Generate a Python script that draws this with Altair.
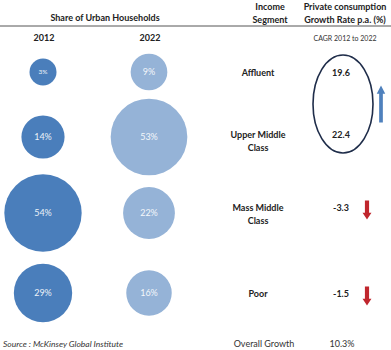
import altair as alt
import pandas as pd

# ---------------- data ----------------
segments = ["Affluent", "Upper Middle\nClass", "Mass Middle\nClass", "Poor"]
years = ["2012", "2022"]
share_2012 = [3, 14, 54, 29]
share_2022 = [9, 53, 22, 16]
growth = [19.6, 22.4, -3.3, -1.5]
overall_growth = "10.3%"
title_left = "Share of Urban Households"
header_segment = ["Income", "Segment"]
header_growth = ["Private consumption", "Growth Rate p.a. (%)"]
subheader = "CAGR 2012 to 2022"
source = "Source : McKinsey Global Institute"
overall_label = "Overall Growth"

# ---------------- layout / style ----------------
W, H = 391, 350
circle_row_y = [72, 137, 213, 293]
text_row_y = [73, 135, 208, 294]
year_x = {"2012": 43, "2022": 149}
seg_x = 258
growth_x = 341
FONT = "Lato"
DARK = "#4a7ebb"
LIGHT = "#95b3d7"

xs = alt.Scale(domain=[0, W], nice=False, zero=False)
ys = alt.Scale(domain=[0, H], nice=False, zero=False, reverse=True)


def X(f="x"):
    return alt.X(f, type="quantitative", scale=xs, axis=None)


def Y(f="y"):
    return alt.Y(f, type="quantitative", scale=ys, axis=None)


# circles
rows = []
for yr, vals in zip(years, [share_2012, share_2022]):
    for i, (seg, v) in enumerate(zip(segments, vals)):
        rows.append({"year": yr, "segment": seg, "share": v,
                     "label": f"{v}%", "x": year_x[yr], "y": circle_row_y[i]})
circ_df = pd.DataFrame(rows)

circles = alt.Chart(circ_df).mark_circle(opacity=1).encode(
    x=X(), y=Y(),
    size=alt.Size("share:Q", scale=alt.Scale(domain=[0, 60], range=[420, 6600]), legend=None),
    color=alt.Color("year:N", scale=alt.Scale(domain=years, range=[DARK, LIGHT]), legend=None),
)
circle_labels = alt.Chart(circ_df).mark_text(
    font=FONT, color="white", opacity=0.9, baseline="middle"
).encode(
    x=X(), y=Y(), text="label:N",
    size=alt.condition("datum.share < 5", alt.value(6.5), alt.value(9)),
)

# segment labels (one row per line)
seg_rows = []
for i, seg in enumerate(segments):
    for j, line in enumerate(seg.split("\n")):
        seg_rows.append({"t": line, "x": seg_x, "y": text_row_y[i] + 13 * j})
seg_labels = alt.Chart(pd.DataFrame(seg_rows)).mark_text(
    font=FONT, fontSize=9, fontWeight="bold", color="#222", baseline="middle"
).encode(x=X(), y=Y(), text="t:N")

# growth values
gdf = pd.DataFrame({"g": [f"{v}" for v in growth], "x": growth_x, "y": text_row_y})
growth_labels = alt.Chart(gdf).mark_text(
    font=FONT, fontSize=9, fontWeight="bold", color="#222", baseline="middle"
).encode(x=X(), y=Y(), text="g:N")

# ellipse around the positive rows
pos_y = [y for y, g in zip(text_row_y, growth) if g > 0]
neg_y = [y for y, g in zip(text_row_y, growth) if g < 0]
a, k = 30 / 49, 0.5523
ellipse_path = (f"M{a},0 C{a},{k} {k*a},1 0,1 C{-k*a},1 {-a},{k} {-a},0 "
                f"C{-a},{-k} {-k*a},-1 0,-1 C{k*a},-1 {a},{-k} {a},0 Z")
ell_df = pd.DataFrame({"x": [growth_x + 2], "y": [sum(pos_y) / len(pos_y)]})
ellipse = alt.Chart(ell_df).mark_point(
    shape=ellipse_path, size=98 * 98, filled=False, stroke="#1f2d4a",
    strokeWidth=1.6, opacity=1
).encode(x=X(), y=Y())

up_path = "M-0.1,1 L0.1,1 L0.1,-0.55 L0.23,-0.55 L0,-1 L-0.23,-0.55 L-0.1,-0.55 Z"
up_df = pd.DataFrame({"x": [381], "y": [sum(pos_y) / len(pos_y)]})
up_arrow = alt.Chart(up_df).mark_point(
    shape=up_path, size=37 * 37, filled=True, fill="#4f81bd", strokeWidth=0, opacity=1
).encode(x=X(), y=Y())

down_path = "M-0.22,-1 L0.22,-1 L0.22,0.3 L0.47,0.3 L0,1 L-0.47,0.3 L-0.22,0.3 Z"
dn_df = pd.DataFrame({"x": 367, "y": [y + 2 for y in neg_y]})
down_arrows = alt.Chart(dn_df).mark_point(
    shape=down_path, size=19 * 19, filled=True, fill="#c0262d", strokeWidth=0, opacity=1
).encode(x=X(), y=Y())

# headers
hdr = pd.DataFrame([
    {"t": title_left, "x": 105, "y": 18},
    {"t": years[0], "x": 44, "y": 38},
    {"t": years[1], "x": 150, "y": 38},
    {"t": header_segment[0], "x": 270, "y": 7},
    {"t": header_segment[1], "x": 270, "y": 20},
    {"t": header_growth[0], "x": 345, "y": 7},
    {"t": header_growth[1], "x": 345, "y": 20},
])
headers = alt.Chart(hdr).mark_text(
    font=FONT, fontSize=9, fontWeight="bold", color="#222", baseline="middle"
).encode(x=X(), y=Y(), text="t:N")

sub = alt.Chart(pd.DataFrame({"t": [subheader], "x": [345], "y": [39]})).mark_text(
    font=FONT, fontSize=7, color="#333", baseline="middle"
).encode(x=X(), y=Y(), text="t:N")

foot = alt.Chart(pd.DataFrame({"t": [overall_label, overall_growth], "x": [264, 342], "y": [344, 344]})).mark_text(
    font=FONT, fontSize=9, color="#333", baseline="middle"
).encode(x=X(), y=Y(), text="t:N")

src = alt.Chart(pd.DataFrame({"t": [source], "x": [3], "y": [344]})).mark_text(
    font=FONT, fontSize=8.5, fontStyle="italic", color="#333", baseline="middle", align="left"
).encode(x=X(), y=Y(), text="t:N")

rule = alt.Chart(pd.DataFrame({"a": [0]})).mark_rule(color="#555", strokeWidth=1).encode(
    x=alt.value(0), x2=alt.value(W), y=alt.value(26)
)

chart = alt.layer(
    rule, circles, circle_labels, seg_labels, growth_labels, ellipse, up_arrow,
    down_arrows, headers, sub, foot, src
).properties(
    width=W, height=H, padding=0, autosize=alt.AutoSizeParams(type="none"),
    background="white"
).configure_view(stroke=None)

chart.save("out.html", embed_options={"renderer": "svg", "actions": False})
